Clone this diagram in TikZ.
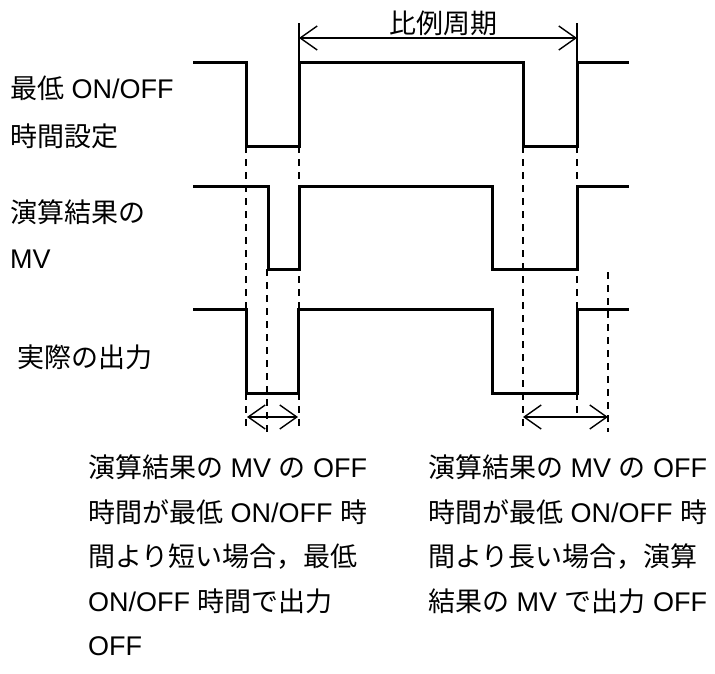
\documentclass[tikz,border=0pt]{standalone}
\usepackage{fontspec}
\setmainfont{Liberation Sans}
\newfontfamily\jp{Noto Sans CJK JP}
\usetikzlibrary{arrows.meta}
\begin{document}
\begin{tikzpicture}[x=1pt,y=-1pt,
  wave/.style={line width=3pt, line join=miter},
  guide/.style={line width=1.4pt, dash pattern=on 7pt off 6pt},
  ext/.style={line width=1.3pt},
  dim/.style={line width=1.4pt, {Straight Barb[length=17pt,width=24pt]}-{Straight Barb[length=17pt,width=24pt]}},
  lbl/.style={anchor=base west, inner sep=0pt, font=\fontsize{27}{30}\selectfont},
]
\useasboundingbox (0,0) rectangle (715,673);

% waveforms
\draw[wave] (193,62) -- (246,62) -- (246,146) -- (299,146) -- (299,62) -- (523,62) -- (523,146) -- (577,146) -- (577,62) -- (629,62);
\draw[wave] (193,186) -- (268,186) -- (268,269) -- (299,269) -- (299,186) -- (492,186) -- (492,269) -- (577,269) -- (577,186) -- (629,186);
\draw[wave] (193,309) -- (246,309) -- (246,393) -- (298,393) -- (298,309) -- (492,309) -- (492,393) -- (577,393) -- (577,309) -- (629,309);

% guide coordinates
\coordinate (e1t) at (299,23);
\coordinate (e1b) at (299,62);
\coordinate (e2t) at (577,23);
\coordinate (e2b) at (577,62);
\coordinate (p1) at (299,38);
\coordinate (p2) at (577,38);

\draw[ext] (e1t) -- (e1b);
\draw[ext] (e2t) -- (e2b);
\draw[dim] (p1) -- (p2);
\node[anchor=base, inner sep=0pt, font=\fontsize{27}{30}\selectfont\jp] (period) at (443,33) {比例周期};

% dashed guides
\coordinate (g1t) at (246,146); \coordinate (g1b) at (246,432);
\coordinate (g2t) at (299,146); \coordinate (g2b) at (299,432);
\coordinate (g3t) at (267,269); \coordinate (g3b) at (267,432);
\coordinate (g4t) at (523,146); \coordinate (g4b) at (523,432);
\coordinate (g5t) at (577,146); \coordinate (g5b) at (577,415);
\coordinate (g6t) at (608,272); \coordinate (g6b) at (608,432);
\draw[guide] (g1t) -- (g1b);
\draw[guide] (g2t) -- (g2b);
\draw[guide] (g3t) -- (g3b);
\draw[guide] (g4t) -- (g4b);
\draw[guide] (g5t) -- (g5b);
\draw[guide] (g6t) -- (g6b);

% bottom arrows
\coordinate (a1) at (247,417); \coordinate (a2) at (298,417);
\coordinate (b1) at (523,417); \coordinate (b2) at (608,417);
\draw[dim] (a1) -- (a2);
\draw[dim] (b1) -- (b2);

% left labels
\node[lbl] (l1) at (10,98) {{\jp 最低} ON/OFF};
\node[lbl] (l2) at (10,146) {\jp 時間設定};
\node[lbl] (l3) at (10,222) {\jp 演算結果の};
\node[lbl] (l4) at (10,268) {MV};
\node[lbl] (l5) at (17,367) {\jp 実際の出力};

% bottom-left notes
\node[lbl] (n1) at (88,477.7) {{\jp 演算結果の} MV {\jp の} OFF};
\node[lbl] (n2) at (88,522.2) {{\jp 時間が最低} ON/OFF {\jp 時}};
\node[lbl] (n3) at (88,566.7) {\jp 間より短い場合，最低};
\node[lbl] (n4) at (88,611.2) {ON/OFF {\jp 時間で出力}};
\node[lbl] (n5) at (88,655.7) {OFF};

% bottom-right notes
\node[lbl] (m1) at (428,477.7) {{\jp 演算結果の} MV {\jp の} OFF};
\node[lbl] (m2) at (428,522.2) {{\jp 時間が最低} ON/OFF {\jp 時}};
\node[lbl] (m3) at (428,566.7) {\jp 間より長い場合，演算};
\node[lbl] (m4) at (428,611.2) {{\jp 結果の} MV {\jp で出力} OFF};
\end{tikzpicture}
\end{document}
